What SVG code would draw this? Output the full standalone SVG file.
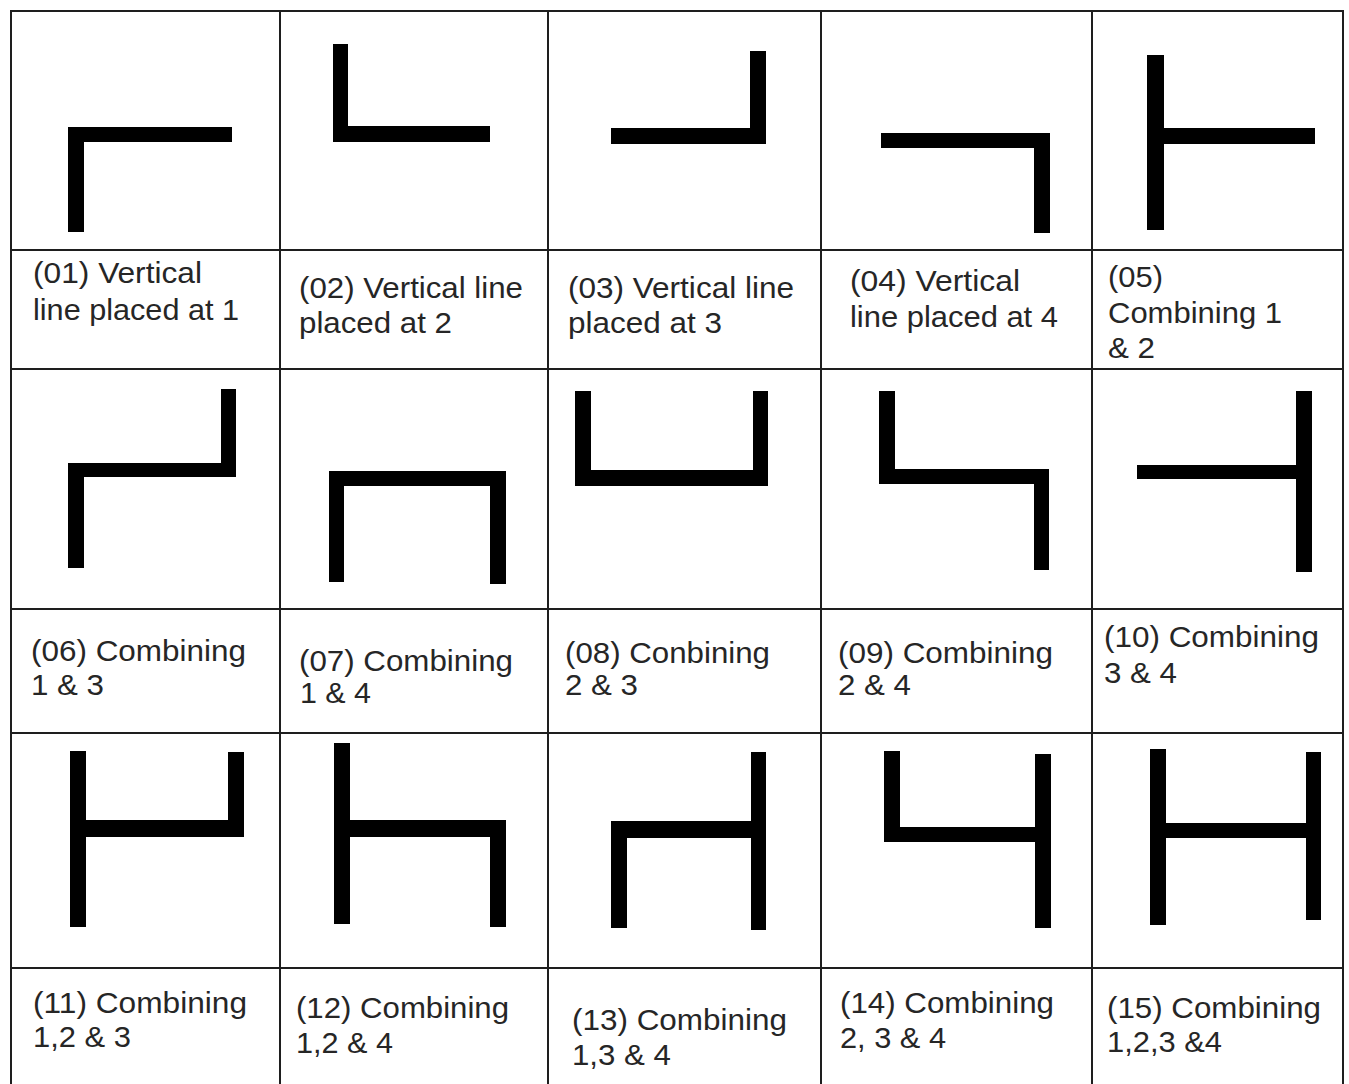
<svg xmlns="http://www.w3.org/2000/svg" width="1349" height="1084" viewBox="0 0 1349 1084">
<style>
.bg{fill:#ffffff}
.grid line{stroke:#1e1e1e;stroke-width:2}
.bar{fill:#000000}
.lbl{font-family:"Liberation Sans",Arial,sans-serif;font-size:29px;fill:#262626}
</style>
<rect class="bg" x="0" y="0" width="1349" height="1084"/>
<g id="grid" class="grid">
<line x1="10" y1="11" x2="1344" y2="11"/>
<line x1="10" y1="250" x2="1344" y2="250"/>
<line x1="10" y1="369" x2="1344" y2="369"/>
<line x1="10" y1="609" x2="1344" y2="609"/>
<line x1="10" y1="733" x2="1344" y2="733"/>
<line x1="10" y1="968" x2="1344" y2="968"/>
<line x1="11" y1="11" x2="11" y2="1084"/>
<line x1="280" y1="11" x2="280" y2="1084"/>
<line x1="548" y1="11" x2="548" y2="1084"/>
<line x1="821" y1="11" x2="821" y2="1084"/>
<line x1="1092" y1="11" x2="1092" y2="1084"/>
<line x1="1343" y1="11" x2="1343" y2="1084"/>
</g>
<g id="cell01">
<rect class="bar" x="68" y="127" width="164" height="15"/>
<rect class="bar" x="68" y="127" width="16" height="105"/>
<text class="lbl" x="33" y="283" textLength="169" lengthAdjust="spacingAndGlyphs">(01) Vertical</text>
<text class="lbl" x="33" y="320" textLength="206" lengthAdjust="spacingAndGlyphs">line placed at 1</text>
</g>
<g id="cell02">
<rect class="bar" x="333" y="44" width="15" height="98"/>
<rect class="bar" x="333" y="126" width="157" height="16"/>
<text class="lbl" x="299" y="298" textLength="224" lengthAdjust="spacingAndGlyphs">(02) Vertical line</text>
<text class="lbl" x="299" y="333" textLength="153" lengthAdjust="spacingAndGlyphs">placed at 2</text>
</g>
<g id="cell03">
<rect class="bar" x="611" y="128" width="155" height="16"/>
<rect class="bar" x="750" y="51" width="16" height="93"/>
<text class="lbl" x="568" y="298" textLength="226" lengthAdjust="spacingAndGlyphs">(03) Vertical line</text>
<text class="lbl" x="568" y="333" textLength="154" lengthAdjust="spacingAndGlyphs">placed at 3</text>
</g>
<g id="cell04">
<rect class="bar" x="881" y="133" width="169" height="15"/>
<rect class="bar" x="1034" y="133" width="16" height="100"/>
<text class="lbl" x="850" y="291" textLength="170" lengthAdjust="spacingAndGlyphs">(04) Vertical</text>
<text class="lbl" x="850" y="327" textLength="208" lengthAdjust="spacingAndGlyphs">line placed at 4</text>
</g>
<g id="cell05">
<rect class="bar" x="1147" y="55" width="17" height="175"/>
<rect class="bar" x="1147" y="128" width="168" height="16"/>
<text class="lbl" x="1108" y="287" textLength="55" lengthAdjust="spacingAndGlyphs">(05)</text>
<text class="lbl" x="1108" y="323" textLength="174" lengthAdjust="spacingAndGlyphs">Combining 1</text>
<text class="lbl" x="1108" y="358" textLength="47" lengthAdjust="spacingAndGlyphs">&amp; 2</text>
</g>
<g id="cell06">
<rect class="bar" x="68" y="463" width="16" height="105"/>
<rect class="bar" x="68" y="463" width="168" height="14"/>
<rect class="bar" x="221" y="389" width="15" height="88"/>
<text class="lbl" x="31" y="661" textLength="215" lengthAdjust="spacingAndGlyphs">(06) Combining</text>
<text class="lbl" x="31" y="695" textLength="73" lengthAdjust="spacingAndGlyphs">1 &amp; 3</text>
</g>
<g id="cell07">
<rect class="bar" x="329" y="471" width="177" height="15"/>
<rect class="bar" x="329" y="471" width="15" height="111"/>
<rect class="bar" x="490" y="471" width="16" height="113"/>
<text class="lbl" x="299" y="671" textLength="214" lengthAdjust="spacingAndGlyphs">(07) Combining</text>
<text class="lbl" x="300" y="703" textLength="71" lengthAdjust="spacingAndGlyphs">1 &amp; 4</text>
</g>
<g id="cell08">
<rect class="bar" x="575" y="391" width="16" height="95"/>
<rect class="bar" x="575" y="470" width="193" height="16"/>
<rect class="bar" x="753" y="391" width="15" height="95"/>
<text class="lbl" x="565" y="663" textLength="205" lengthAdjust="spacingAndGlyphs">(08) Conbining</text>
<text class="lbl" x="565" y="695" textLength="73" lengthAdjust="spacingAndGlyphs">2 &amp; 3</text>
</g>
<g id="cell09">
<rect class="bar" x="879" y="391" width="16" height="93"/>
<rect class="bar" x="879" y="469" width="170" height="15"/>
<rect class="bar" x="1034" y="469" width="15" height="101"/>
<text class="lbl" x="838" y="663" textLength="215" lengthAdjust="spacingAndGlyphs">(09) Combining</text>
<text class="lbl" x="838" y="695" textLength="73" lengthAdjust="spacingAndGlyphs">2 &amp; 4</text>
</g>
<g id="cell10">
<rect class="bar" x="1137" y="465" width="175" height="14"/>
<rect class="bar" x="1296" y="391" width="16" height="181"/>
<text class="lbl" x="1104" y="647" textLength="215" lengthAdjust="spacingAndGlyphs">(10) Combining</text>
<text class="lbl" x="1104" y="683" textLength="73" lengthAdjust="spacingAndGlyphs">3 &amp; 4</text>
</g>
<g id="cell11">
<rect class="bar" x="70" y="751" width="16" height="176"/>
<rect class="bar" x="70" y="820" width="174" height="17"/>
<rect class="bar" x="228" y="752" width="16" height="85"/>
<text class="lbl" x="33" y="1013" textLength="214" lengthAdjust="spacingAndGlyphs">(11) Combining</text>
<text class="lbl" x="33" y="1047" textLength="98" lengthAdjust="spacingAndGlyphs">1,2 &amp; 3</text>
</g>
<g id="cell12">
<rect class="bar" x="334" y="743" width="16" height="181"/>
<rect class="bar" x="334" y="820" width="172" height="17"/>
<rect class="bar" x="490" y="820" width="16" height="107"/>
<text class="lbl" x="296" y="1018" textLength="213" lengthAdjust="spacingAndGlyphs">(12) Combining</text>
<text class="lbl" x="296" y="1053" textLength="97" lengthAdjust="spacingAndGlyphs">1,2 &amp; 4</text>
</g>
<g id="cell13">
<rect class="bar" x="611" y="821" width="155" height="17"/>
<rect class="bar" x="611" y="821" width="16" height="107"/>
<rect class="bar" x="751" y="752" width="15" height="178"/>
<text class="lbl" x="572" y="1030" textLength="215" lengthAdjust="spacingAndGlyphs">(13) Combining</text>
<text class="lbl" x="572" y="1065" textLength="99" lengthAdjust="spacingAndGlyphs">1,3 &amp; 4</text>
</g>
<g id="cell14">
<rect class="bar" x="884" y="751" width="16" height="91"/>
<rect class="bar" x="884" y="827" width="167" height="15"/>
<rect class="bar" x="1035" y="754" width="16" height="174"/>
<text class="lbl" x="840" y="1013" textLength="214" lengthAdjust="spacingAndGlyphs">(14) Combining</text>
<text class="lbl" x="840" y="1048" textLength="106" lengthAdjust="spacingAndGlyphs">2, 3 &amp; 4</text>
</g>
<g id="cell15">
<rect class="bar" x="1150" y="749" width="16" height="176"/>
<rect class="bar" x="1150" y="823" width="171" height="15"/>
<rect class="bar" x="1306" y="752" width="15" height="168"/>
<text class="lbl" x="1107" y="1018" textLength="214" lengthAdjust="spacingAndGlyphs">(15) Combining</text>
<text class="lbl" x="1107" y="1052" textLength="115" lengthAdjust="spacingAndGlyphs">1,2,3 &amp;4</text>
</g>
</svg>
